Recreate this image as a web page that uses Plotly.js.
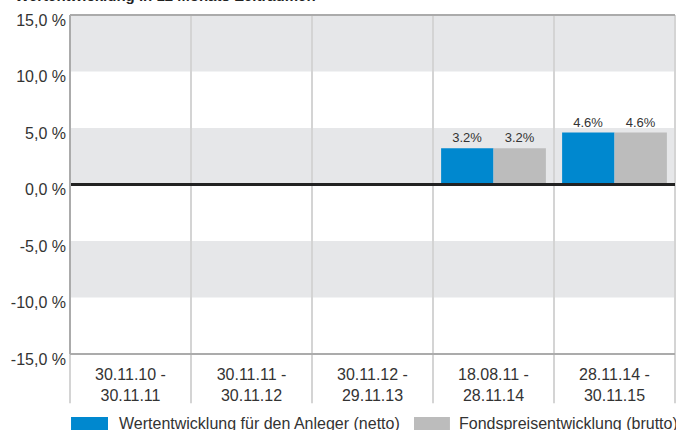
<!DOCTYPE html>
<html><head><meta charset="utf-8">
<script src="https://cdn.plot.ly/plotly-3.0.1.min.js"></script>
<style>html,body{margin:0;padding:0;background:#fff;}#chart{width:676px;height:430px;}</style>
</head><body><div id="chart"></div>
<script>
const titleText = 'Wertentwicklung in 12 Monats-Zeiträumen';
const categories = ['30.11.10 -<br>30.11.11','30.11.11 -<br>30.11.12','30.11.12 -<br>29.11.13','18.08.11 -<br>28.11.14','28.11.14 -<br>30.11.15'];
const seriesNames = ['Wertentwicklung für den Anleger (netto)','Fondspreisentwicklung (brutto)'];
const netto = [null,null,null,3.2,4.6];
const brutto = [null,null,null,3.2,4.6];
const yTickVals = [15,10,5,0,-5,-10,-15];
const yTickText = ['15,0 %','10,0 %','5,0 %','0,0 %','-5,0 %','-10,0 %','-15,0 %'];
const bandEdges = [[10,15],[0,5],[-10,-5]];
const colors = ['#0088cf','#bcbcbc'];

const fmt = v => v == null ? '' : v.toFixed(1) + '%';
const font = 'Arial, "Liberation Sans", sans-serif';

const traces = [netto, brutto].map((vals,i)=>({
  type:'bar', x:categories, y:vals, name:seriesNames[i],
  marker:{color:colors[i]}, text:vals.map(fmt), textposition:'outside',
  textfont:{size:13,color:'#333',family:font}, cliponaxis:false, hoverinfo:'none'
}));

const shapes = [];
bandEdges.forEach(b=>shapes.push({type:'rect',xref:'paper',yref:'y',x0:0,x1:1,y0:b[0],y1:b[1],fillcolor:'#e6e7e9',line:{width:0},layer:'below'}));
for(let i=0;i<=categories.length;i++){
  shapes.push({type:'line',xref:'paper',yref:'paper',x0:i/categories.length,x1:i/categories.length,y0:-0.145,y1:1,line:{color:'#d4d4d4',width:2},layer:'above'});
}
shapes.push({type:'line',xref:'paper',yref:'y',x0:0,x1:1,y0:0,y1:0,line:{color:'#222',width:3},layer:'above'});
shapes.push({type:'line',xref:'paper',yref:'paper',x0:0,x1:1,y0:1,y1:1,line:{color:'#ababab',width:2},layer:'above'});
shapes.push({type:'line',xref:'paper',yref:'paper',x0:0,x1:0,y0:0,y1:1,line:{color:'#ababab',width:2},layer:'above'});
shapes.push({type:'line',xref:'paper',yref:'paper',x0:0,x1:1,y0:0,y1:0,line:{color:'#ababab',width:2},layer:'above'});
// legend swatches
const legX = [[0.0017,0.0628],[0.5686,0.628]];
legX.forEach((lx,i)=>shapes.push({type:'rect',xref:'paper',yref:'paper',x0:lx[0],x1:lx[1],y0:-0.2242,y1:-0.1858,fillcolor:colors[i],line:{width:0}}));

const annotations = [
  {text:'<b>'+titleText+'</b>',xref:'paper',yref:'paper',x:-0.094,y:1.0265,xanchor:'left',yanchor:'bottom',showarrow:false,font:{size:15,color:'#222',family:font}},
  {text:seriesNames[0],xref:'paper',yref:'paper',x:0.0777,y:-0.205,xanchor:'left',yanchor:'middle',showarrow:false,font:{size:16,color:'#333',family:font}},
  {text:seriesNames[1],xref:'paper',yref:'paper',x:0.6397,y:-0.205,xanchor:'left',yanchor:'middle',showarrow:false,font:{size:16,color:'#333',family:font}}
];

const layout = {
  width:676,height:430,margin:{l:70,r:1,t:15,b:76},
  paper_bgcolor:'#fff',plot_bgcolor:'rgba(0,0,0,0)',
  barmode:'group',bargap:0.134,bargroupgap:0,showlegend:false,
  xaxis:{type:'category',range:[-0.5,4.5],showgrid:false,zeroline:false,showline:false,ticks:'',
    tickfont:{size:16,color:'#333',family:font},ticklabelstandoff:9,fixedrange:true},
  yaxis:{range:[-15,15],tickvals:yTickVals,ticktext:yTickText,showgrid:false,zeroline:false,showline:false,ticks:'',
    tickfont:{size:16,color:'#333',family:font},ticklabelstandoff:3,ticklabelshift:5,fixedrange:true},
  shapes:shapes,annotations:annotations
};
Plotly.newPlot('chart',traces,layout,{staticPlot:true});
</script></body></html>
